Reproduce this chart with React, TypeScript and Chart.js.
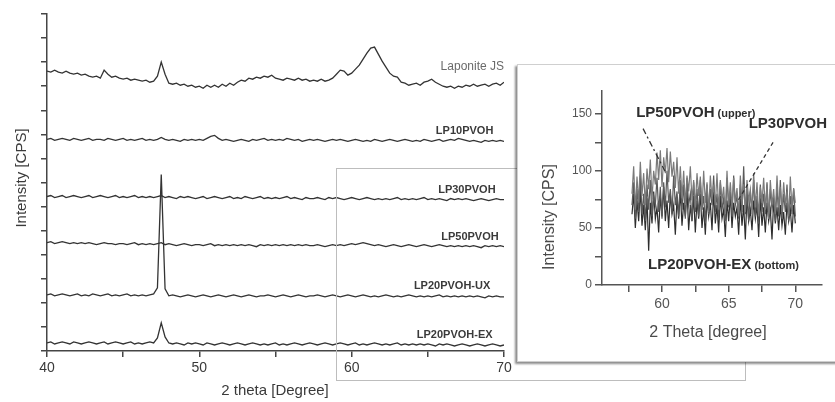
import { useEffect, useRef } from 'react';
import { Chart, registerables } from 'chart.js';

Chart.register(...registerables);

const FONT = '"Liberation Sans", Arial, Helvetica, sans-serif';

// ---- survey scans, 2θ = 40..70°, 0.25° step ----
const scanStart = 40;
const scanStep = 0.25;

const laponiteJS = [
  29, 28, 30, 28, 27, 29, 27, 26, 27, 25,
  26, 24, 23, 24, 22, 30, 26, 23, 24, 22,
  21, 22, 20, 21, 20, 19, 20, 18, 19, 24,
  38, 26, 17, 16, 17, 15, 16, 14, 15, 13,
  14, 12, 15, 13, 15, 13, 16, 14, 17, 15,
  18, 20, 19, 22, 21, 23, 22, 24, 23, 25,
  22, 21, 20, 22, 21, 20, 22, 20, 21, 19,
  20, 19, 21, 19, 20, 22, 26, 30, 29, 25,
  27, 31, 35, 41, 47, 52, 53, 46, 39, 33,
  27, 24, 23, 18, 17, 15, 16, 17, 15, 18,
  19, 21, 18, 16, 14, 13, 14, 12, 14, 13,
  15, 14, 16, 14, 15, 16, 14, 16, 17, 15,
  18,
];

const lp10PVOH = [
  11, 12, 10, 11, 12, 11, 10, 12, 11, 10,
  11, 12, 10, 11, 11, 10, 12, 11, 10, 11,
  12, 10, 11, 10, 11, 12, 10, 11, 10, 11,
  13, 11, 10, 11, 10, 9, 11, 10, 11, 10,
  11, 10, 12, 14, 15, 12, 10, 11, 10, 9,
  10, 11, 10, 9, 11, 10, 11, 12, 10, 11,
  10, 11, 10, 12, 11, 10, 11, 9, 10, 11,
  10, 11, 10, 9, 10, 11, 10, 11, 10, 9,
  10, 11, 10, 9, 10, 9, 11, 10, 9, 10,
  11, 10, 9, 10, 11, 10, 9, 10, 9, 11,
  10, 9, 10, 11, 9, 10, 11, 10, 12, 11,
  10, 9, 10, 9, 8, 10, 9, 10, 9, 10,
  9,
];

const lp30PVOH = [
  14, 15, 13, 14, 15, 13, 14, 15, 14, 13,
  14, 15, 13, 14, 15, 14, 13, 14, 15, 13,
  14, 13, 14, 15, 13, 14, 13, 14, 13, 14,
  15, 13, 14, 13, 12, 14, 13, 14, 13, 12,
  13, 14, 12, 13, 14, 13, 12, 13, 14, 12,
  13, 12, 14, 13, 12, 13, 14, 12, 13, 12,
  13, 12, 13, 14, 12, 13, 12, 11, 13, 12,
  12, 13, 12, 11, 13, 12, 13, 12, 11, 12,
  13, 12, 11, 12, 13, 12, 11, 12, 11, 12,
  11, 12, 13, 11, 12, 11, 12, 11, 12, 13,
  11, 12, 11, 12, 11, 10, 12, 11, 12, 11,
  12, 11, 10, 11, 12, 11, 10, 11, 12, 11,
  11,
];

const lp50PVOH = [
  13, 14, 12, 13, 14, 13, 12, 13, 12, 13,
  12, 13, 12, 11, 12, 13, 12, 12, 11, 12,
  12, 11, 12, 13, 11, 12, 11, 12, 11, 12,
  13, 11, 12, 11, 10, 11, 12, 11, 10, 11,
  11, 10, 11, 12, 10, 11, 10, 11, 10, 11,
  10, 11, 10, 11, 10, 9, 11, 10, 11, 10,
  11, 10, 11, 10, 11, 10, 11, 10, 11, 10,
  10, 11, 10, 9, 10, 11, 10, 11, 10, 11,
  12, 11, 12, 13, 12, 11, 10, 11, 10, 9,
  10, 11, 10, 9, 10, 11, 10, 9, 10, 11,
  10, 9, 10, 11, 10, 9, 10, 9, 10, 9,
  10, 9, 10, 9, 8, 10, 9, 10, 9, 10,
  9,
];

const lp20PVOHUX = [
  11, 12, 10, 11, 12, 11, 10, 11, 12, 10,
  11, 10, 12, 11, 10, 11, 12, 10, 11, 10,
  11, 12, 10, 11, 10, 11, 10, 11, 12, 18,
  131, 17, 10, 11, 10, 9, 10, 11, 10, 9,
  10, 11, 10, 9, 10, 11, 10, 9, 10, 11,
  10, 9, 10, 11, 10, 9, 10, 10, 11, 10,
  9, 10, 11, 10, 9, 10, 11, 10, 9, 10,
  10, 11, 10, 9, 10, 11, 10, 9, 10, 11,
  10, 9, 10, 11, 10, 9, 10, 9, 10, 11,
  10, 9, 10, 9, 10, 11, 10, 9, 10, 9,
  10, 9, 10, 11, 9, 10, 9, 10, 9, 10,
  9, 10, 9, 10, 9, 8, 10, 9, 10, 9,
  9,
];

const lp20PVOHEX = [
  8, 9, 7, 8, 9, 8, 7, 9, 8, 7,
  8, 9, 8, 7, 8, 9, 7, 8, 9, 8,
  7, 8, 9, 7, 8, 7, 8, 9, 8, 13,
  28, 14, 8, 7, 8, 7, 6, 8, 7, 8,
  7, 6, 8, 7, 6, 7, 8, 7, 6, 7,
  8, 7, 6, 7, 8, 7, 6, 7, 6, 7,
  8, 6, 7, 6, 7, 8, 7, 6, 7, 8,
  7, 6, 7, 8, 7, 6, 7, 8, 7, 6,
  7, 8, 6, 7, 6, 7, 8, 7, 6, 7,
  6, 7, 8, 6, 7, 6, 7, 6, 7, 6,
  7, 6, 5, 7, 6, 7, 6, 5, 6, 7,
  6, 5, 6, 7, 6, 5, 6, 7, 6, 5,
  6,
];

const seriesNames = ['Laponite JS', 'LP10PVOH', 'LP30PVOH', 'LP50PVOH', 'LP20PVOH-UX', 'LP20PVOH-EX'];
const mainSeries = [laponiteJS, lp10PVOH, lp30PVOH, lp50PVOH, lp20PVOHUX, lp20PVOHEX];
// vertical stacking of the scans
const stackOffsets = [250, 200, 140, 95, 45, 0];

const mainXTicks = [40, 45, 50, 55, 60, 65, 70];
const mainXLabels = [40, 50, 60, 70];
const mainYTicks = [0, 24, 48, 72, 96, 120, 144, 168, 192, 216, 240, 264, 288, 312, 336];

// ---- detail scans, 2θ = 57.75..70°, 0.125° step ----
const detailStart = 57.75;
const detailStep = 0.125;

const detailLP50 = [
  80, 104, 66, 95, 72, 108, 78, 98, 70, 102,
  84, 110, 75, 100, 88, 116, 92, 118, 86, 112,
  98, 120, 90, 117, 95, 108, 85, 112, 80, 104,
  76, 100, 70, 96, 82, 104, 74, 92, 68, 98,
  78, 95, 66, 100, 72, 90, 64, 96, 75, 88,
  70, 98, 66, 92, 74, 86, 62, 100, 70, 90,
  68, 94, 72, 85, 60, 96, 70, 88, 64, 92,
  74, 84, 62, 98, 68, 90, 60, 86, 72, 94,
  66, 88, 58, 92, 70, 84, 62, 96, 68, 86,
  64, 90, 70, 82, 60, 95, 66, 85, 72,
];

const detailLP30 = [
  70, 90, 58, 84, 64, 96, 62, 80, 56, 88,
  66, 92, 60, 78, 70, 94, 64, 86, 58, 90,
  68, 100, 72, 84, 62, 96, 70, 82, 60, 92,
  66, 88, 58, 94, 70, 80, 56, 90, 64, 84,
  60, 92, 66, 78, 54, 88, 62, 84, 70, 96,
  64, 80, 58, 90, 66, 76, 56, 94, 68, 82,
  60, 96, 70, 78, 58, 88, 64, 104, 62, 86,
  56, 82, 66, 92, 60, 78, 54, 88, 64, 80,
  62, 90, 58, 84, 66, 76, 56, 86, 60, 92,
  58, 80, 64, 88, 56, 78, 62, 84, 60,
];

const detailLP20EX = [
  62, 80, 50, 74, 56, 84, 52, 70, 48, 76,
  30, 72, 54, 82, 58, 68, 46, 78, 60, 86,
  56, 74, 50, 80, 62, 70, 44, 76, 58, 82,
  52, 72, 60, 84, 48, 70, 56, 78, 46, 74,
  58, 80, 50, 68, 44, 76, 60, 72, 48, 82,
  54, 70, 46, 78, 58, 66, 42, 74, 56, 80,
  50, 72, 60, 68, 44, 76, 52, 70, 40, 78,
  56, 66, 48, 74, 58, 70, 42, 76, 52, 68,
  46, 72, 56, 66, 40, 74, 54, 68, 48, 70,
  52, 64, 44, 72, 56, 66, 46, 70, 54,
];

const detailXTicks = [57.5, 60, 62.5, 65, 67.5, 70];
const detailXLabels = [60, 65, 70];
const detailYTicks = [0, 25, 50, 75, 100, 125, 150];
const detailYLabels = [0, 50, 100, 150];

const AXIS = '#454545';
const TEXT = '#3a3a3a';

// sample names written beside each stacked scan (right edge x, centre y)
const scanLabels = [
  { text: 'Laponite JS', x: 70.0, y: 283, bold: false, size: 12, color: '#6a6a6a' },
  { text: 'LP10PVOH', x: 69.3, y: 219, bold: true, size: 11, color: TEXT },
  { text: 'LP30PVOH', x: 69.45, y: 161, bold: true, size: 11, color: TEXT },
  { text: 'LP50PVOH', x: 69.65, y: 114, bold: true, size: 11, color: TEXT },
  { text: 'LP20PVOH-UX', x: 69.1, y: 65, bold: true, size: 11, color: TEXT },
  { text: 'LP20PVOH-EX', x: 69.25, y: 16, bold: true, size: 11, color: TEXT },
];

// callouts in the detail panel (left x, baseline y)
const detailLabels = [
  { main: 'LP50PVOH', note: ' (upper)', x: 58.06, y: 147 },
  { main: 'LP30PVOH', note: '', x: 66.5, y: 138 },
  { main: 'LP20PVOH-EX', note: ' (bottom)', x: 58.95, y: 14 },
];
const detailLeaders = [
  { from: [58.58, 137], to: [60.3, 98], dash: [6, 3, 2, 3] },
  { from: [68.33, 125], to: [65.7, 74], dash: [4, 3] },
];

function xs(start: number, step: number, n: number) {
  const out: number[] = [];
  for (let i = 0; i < n; i++) out.push(+(start + i * step).toFixed(4));
  return out;
}

const mainPlugin = {
  id: 'mainDecor',
  afterDraw(chart: any) {
    const { ctx, scales } = chart;
    const sx = scales.x;
    const sy = scales.y;
    ctx.save();
    ctx.textBaseline = 'middle';
    ctx.textAlign = 'right';
    for (const l of scanLabels) {
      ctx.font = `${l.bold ? 'bold ' : ''}${l.size}px ${FONT}`;
      ctx.fillStyle = l.color;
      ctx.fillText(l.text, sx.getPixelForValue(l.x), sy.getPixelForValue(l.y));
    }
    // axis titles
    ctx.fillStyle = TEXT;
    ctx.font = `15px ${FONT}`;
    ctx.textAlign = 'center';
    ctx.fillText('2 theta [Degree]', 275, 391);
    ctx.translate(22, 178);
    ctx.rotate(-Math.PI / 2);
    ctx.fillText('Intensity [CPS]', 0, 0);
    ctx.restore();
  },
};

const detailPlugin = {
  id: 'detailDecor',
  afterDraw(chart: any) {
    const { ctx, scales } = chart;
    const sx = scales.x;
    const sy = scales.y;
    ctx.save();
    ctx.strokeStyle = '#333';
    ctx.lineWidth = 1.3;
    for (const d of detailLeaders) {
      ctx.setLineDash(d.dash);
      ctx.beginPath();
      ctx.moveTo(sx.getPixelForValue(d.from[0]), sy.getPixelForValue(d.from[1]));
      ctx.lineTo(sx.getPixelForValue(d.to[0]), sy.getPixelForValue(d.to[1]));
      ctx.stroke();
    }
    ctx.setLineDash([]);
    ctx.fillStyle = '#2e2e2e';
    ctx.textBaseline = 'alphabetic';
    ctx.textAlign = 'left';
    for (const l of detailLabels) {
      const px = sx.getPixelForValue(l.x);
      const py = sy.getPixelForValue(l.y);
      ctx.font = `bold 15px ${FONT}`;
      ctx.fillText(l.main, px, py);
      const w = ctx.measureText(l.main).width;
      if (l.note) {
        ctx.font = `bold 11px ${FONT}`;
        ctx.fillText(l.note, px + w, py);
      }
    }
    ctx.fillStyle = '#4a4a4a';
    ctx.font = `16px ${FONT}`;
    ctx.textAlign = 'center';
    ctx.textBaseline = 'middle';
    ctx.fillText('2 Theta [degree]', 190, 268);
    ctx.translate(32, 152);
    ctx.rotate(-Math.PI / 2);
    ctx.fillText('Intensity [CPS]', 0, 0);
    ctx.restore();
  },
};

export default function App() {
  const mainRef = useRef<HTMLCanvasElement | null>(null);
  const detailRef = useRef<HTMLCanvasElement | null>(null);

  useEffect(() => {
    const mainX = xs(scanStart, scanStep, laponiteJS.length);
    const main = new Chart(mainRef.current as HTMLCanvasElement, {
      type: 'line',
      data: {
        datasets: mainSeries.map((vals, k) => ({
          label: seriesNames[k],
          data: vals.map((v, i) => ({ x: mainX[i], y: v + stackOffsets[k] })),
          borderColor: '#333333',
          borderWidth: 1.3,
          pointRadius: 0,
          tension: 0,
          fill: false,
        })),
      },
      options: {
        animation: false,
        responsive: false,
        devicePixelRatio: 1,
        events: [],
        layout: { padding: { left: 0, top: 14, right: 331, bottom: 0 } },
        plugins: { legend: { display: false }, tooltip: { enabled: false } },
        scales: {
          x: {
            type: 'linear',
            min: 40,
            max: 70,
            afterBuildTicks: (s: any) => {
              s.ticks = mainXTicks.map((value) => ({ value }));
            },
            afterFit: (s: any) => {
              s.height = 51;
            },
            ticks: {
              autoSkip: false,
              maxRotation: 0,
              padding: 3,
              color: TEXT,
              font: { family: FONT, size: 14 },
              callback: (v: any) => (mainXLabels.includes(Number(v)) ? String(v) : ''),
            },
            grid: { drawOnChartArea: false, drawTicks: true, tickLength: 6, color: AXIS, lineWidth: 1.5 },
            border: { display: true, color: AXIS, width: 1.5 },
          },
          y: {
            type: 'linear',
            min: 0,
            max: 336,
            afterBuildTicks: (s: any) => {
              s.ticks = mainYTicks.map((value) => ({ value }));
            },
            afterFit: (s: any) => {
              s.width = 47;
            },
            ticks: { callback: () => '' },
            grid: { drawOnChartArea: false, drawTicks: true, tickLength: 6, color: AXIS, lineWidth: 1.5 },
            border: { display: true, color: AXIS, width: 1.5 },
          },
        },
      },
      plugins: [mainPlugin],
    } as any);

    const detailX = xs(detailStart, detailStep, detailLP50.length);
    const detailSets = [
      { name: 'LP50PVOH', vals: detailLP50, color: '#7a7a7a' },
      { name: 'LP30PVOH', vals: detailLP30, color: '#5a5a5a' },
      { name: 'LP20PVOH-EX', vals: detailLP20EX, color: '#2e2e2e' },
    ];
    const detail = new Chart(detailRef.current as HTMLCanvasElement, {
      type: 'line',
      data: {
        datasets: detailSets.map((d) => ({
          label: d.name,
          data: d.vals.map((v, i) => ({ x: detailX[i], y: v })),
          borderColor: d.color,
          borderWidth: 1.2,
          pointRadius: 0,
          tension: 0,
          fill: false,
        })),
      },
      options: {
        animation: false,
        responsive: false,
        devicePixelRatio: 1,
        events: [],
        layout: { padding: { left: 0, top: 26, right: 14, bottom: 0 } },
        plugins: { legend: { display: false }, tooltip: { enabled: false } },
        scales: {
          x: {
            type: 'linear',
            min: 55.5,
            max: 72,
            afterBuildTicks: (s: any) => {
              s.ticks = detailXTicks.map((value) => ({ value }));
            },
            afterFit: (s: any) => {
              s.height = 76;
            },
            ticks: {
              autoSkip: false,
              maxRotation: 0,
              padding: 4,
              color: '#555',
              font: { family: FONT, size: 14 },
              callback: (v: any) => (detailXLabels.includes(Number(v)) ? String(v) : ''),
            },
            grid: { drawOnChartArea: false, drawTicks: true, tickLength: 7, color: '#555', lineWidth: 1.5 },
            border: { display: true, color: '#555', width: 1.5 },
          },
          y: {
            type: 'linear',
            min: 0,
            max: 170,
            afterBuildTicks: (s: any) => {
              s.ticks = detailYTicks.map((value) => ({ value }));
            },
            afterFit: (s: any) => {
              s.width = 84;
            },
            ticks: {
              padding: 3,
              color: '#555',
              font: { family: FONT, size: 12 },
              callback: (v: any) => (detailYLabels.includes(Number(v)) ? String(v) : ''),
            },
            grid: { drawOnChartArea: false, drawTicks: true, tickLength: 7, color: '#555', lineWidth: 1.5 },
            border: { display: true, color: '#555', width: 1.5 },
          },
        },
      },
      plugins: [detailPlugin],
    } as any);

    return () => {
      main.destroy();
      detail.destroy();
    };
  }, []);

  return (
    <div
      style={{
        position: 'fixed',
        left: 0,
        top: 0,
        width: 835,
        height: 402,
        overflow: 'hidden',
        background: '#fff',
      }}
    >
      <canvas ref={mainRef} width={835} height={402} style={{ position: 'absolute', left: 0, top: 0, width: 835, height: 402 }} />
      {/* zoom window outline */}
      <div
        style={{
          position: 'absolute',
          left: 336,
          top: 168,
          width: 410,
          height: 213,
          border: '1.5px solid #bdbdbd',
          boxSizing: 'border-box',
        }}
      />
      {/* detail panel */}
      <div
        style={{
          position: 'absolute',
          left: 517,
          top: 64,
          width: 330,
          height: 298,
          background: '#fff',
          border: '1px solid #cfcfcf',
          boxShadow: '-2px 2px 2px rgba(0,0,0,0.45)',
          boxSizing: 'border-box',
        }}
      >
        <canvas ref={detailRef} width={318} height={296} style={{ position: 'absolute', left: 0, top: 0, width: 318, height: 296 }} />
      </div>
    </div>
  );
}
